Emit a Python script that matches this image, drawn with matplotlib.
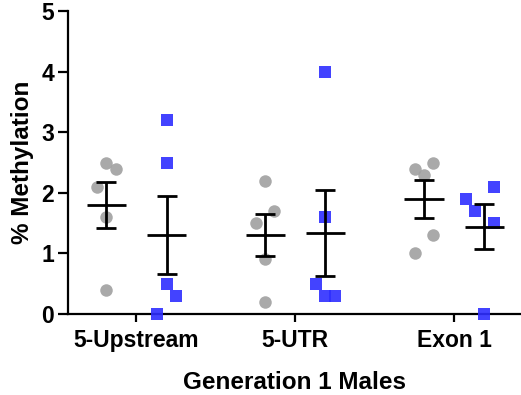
import numpy as np
import matplotlib
matplotlib.use("Agg")
import matplotlib.pyplot as plt

plt.rcParams['font.family'] = ['Liberation Sans', 'DejaVu Sans']
plt.rcParams['font.weight'] = 'bold'

categories = ["5-Upstream", "5-UTR", "Exon 1"]
gray_values = [
    [2.5, 2.4, 2.1, 1.6, 0.4],
    [2.2, 1.7, 1.5, 0.9, 0.2],
    [2.4, 2.5, 2.3, 1.3, 1.0],
]
blue_values = [
    [3.2, 2.5, 0.5, 0.3, 0.0],
    [4.0, 1.6, 0.5, 0.3, 0.3],
    [2.1, 1.9, 1.7, 1.5, 0.0],
]
# horizontal scatter offsets (jitter units)
gray_jitter = [[0, 1, -1, 0, 0], [0, 1, -1, 0, 0], [-1, 1, 0, 1, -1]]
blue_jitter = [[0, 0, 0, 1, -1], [0, 0, -1, 0, 1], [1, -2, -1, 1, 0]]

yticks = [0, 1, 2, 3, 4, 5]
xlabel = "Generation 1 Males"
ylabel = "% Methylation"

fig = plt.figure(figsize=(5.21, 3.95), dpi=100)
ax = fig.add_axes([0.1305, 0.205, 0.8695, 0.767])

off = 0.19
jit = 0.059
gray_c = "#A0A0A0"
blue_c = "#2E2EFF"

for i in range(len(categories)):
    for vals, jl, sign, color, marker, ms in [
        (gray_values[i], gray_jitter[i], -1, gray_c, 'o', 9.0),
        (blue_values[i], blue_jitter[i], 1, blue_c, 's', 8.6),
    ]:
        v = np.array(vals, dtype=float)
        c = i + sign * off
        xs = c + np.array(jl) * jit
        ax.plot(xs, v, linestyle='none', marker=marker, markersize=ms,
                color=color, markeredgewidth=0, alpha=0.9, clip_on=False, zorder=4)
        m = v.mean()
        sem = v.std(ddof=1) / np.sqrt(len(v))
        ax.errorbar([c], [m], yerr=[sem], fmt='none', ecolor='black',
                    elinewidth=2.0, capsize=7.2, capthick=2.0, zorder=5)
        ax.plot([c - 0.123, c + 0.123], [m, m], color='black', lw=2.0, zorder=5,
                solid_capstyle='butt')

ax.set_xlim(-0.43, 2.42)
ax.set_ylim(0, 5)
ax.set_yticks(yticks)
ax.set_xticks(range(len(categories)))
ax.set_xticklabels(categories, fontsize=16.5, fontweight='bold')
ax.set_yticklabels([str(t) for t in yticks], fontsize=16.5, fontweight='bold')
ax.tick_params(axis='y', direction='out', length=7, width=1.6, pad=3)
ax.tick_params(axis='x', direction='out', length=5.5, width=1.6, pad=5)
for s in ['top', 'right']:
    ax.spines[s].set_visible(False)
for s in ['left', 'bottom']:
    ax.spines[s].set_linewidth(1.6)
    ax.spines[s].set_zorder(3)

ax.set_xlabel(xlabel, fontsize=17.5, fontweight='bold', labelpad=14)
ax.set_ylabel(ylabel, fontsize=17.5, fontweight='bold', labelpad=5)

fig.savefig("out.png", dpi=100)
